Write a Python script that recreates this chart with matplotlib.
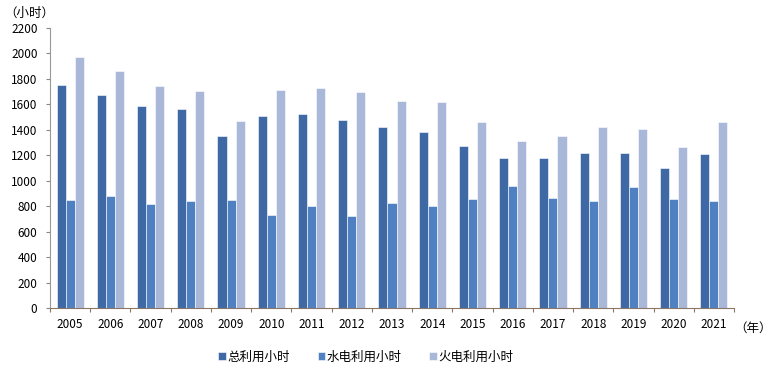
import matplotlib.pyplot as plt
import numpy as np

plt.rcParams['font.family'] = ['Noto Sans CJK SC', 'DejaVu Sans']

# --- données ---
annees = ['2005', '2006', '2007', '2008', '2009', '2010', '2011', '2012', '2013',
          '2014', '2015', '2016', '2017', '2018', '2019', '2020', '2021']
total = [1750, 1670, 1585, 1560, 1350, 1510, 1525, 1480, 1425,
         1385, 1275, 1175, 1175, 1220, 1215, 1100, 1210]
hydro = [845, 880, 815, 840, 850, 730, 800, 720, 825,
         805, 860, 960, 865, 840, 950, 860, 840]
thermique = [1975, 1860, 1745, 1705, 1470, 1710, 1730, 1700, 1630,
             1615, 1460, 1315, 1355, 1420, 1410, 1265, 1460]
series = ['总利用小时', '水电利用小时', '火电利用小时']
couleurs = ['#3F69A5', '#4F81C2', '#A9B7D8']

fig = plt.figure(figsize=(7.72, 3.69), dpi=100)
ax = fig.add_axes([50 / 772, 61 / 369, 684 / 772, 280 / 369])

x = np.arange(len(annees))
w = 0.225
for k, vals in enumerate([total, hydro, thermique]):
    ax.bar(x + (k - 1) * w, vals, width=w, color=couleurs[k],
           edgecolor='white', linewidth=0.4, label=series[k])

ax.set_xlim(-0.5, len(annees) - 0.5)
ax.set_ylim(0, 2200)
ax.set_yticks(range(0, 2201, 200))
ax.tick_params(axis='y', labelsize=8.5, length=3, color='#888888', pad=6)

# graduations x aux frontières des catégories
ax.set_xticks(np.arange(-0.5, len(annees), 1.0))
ax.set_xticklabels([])
ax.set_xticks(x, minor=True)
ax.set_xticklabels(annees, minor=True, fontsize=8.5)
ax.tick_params(axis='x', which='major', length=3, color='#8B7766')
ax.tick_params(axis='x', which='minor', length=0, pad=7)

for s in ['top', 'right']:
    ax.spines[s].set_visible(False)
ax.spines['left'].set_color('#999999')
ax.spines['bottom'].set_color('#8B7766')

fig.text(4 / 772, 1 - 13 / 369, '（小时）', fontsize=9, va='center', ha='left')
fig.text(734 / 772, 1 - 328 / 369, '（年）', fontsize=9, va='center', ha='left')

ax.legend(loc='center', bbox_to_anchor=(0.462, -0.175), ncol=3, frameon=False,
          fontsize=9, handlelength=0.6, handleheight=0.6, handletextpad=0.15,
          columnspacing=2.2)

plt.savefig('out.png', dpi=100)
